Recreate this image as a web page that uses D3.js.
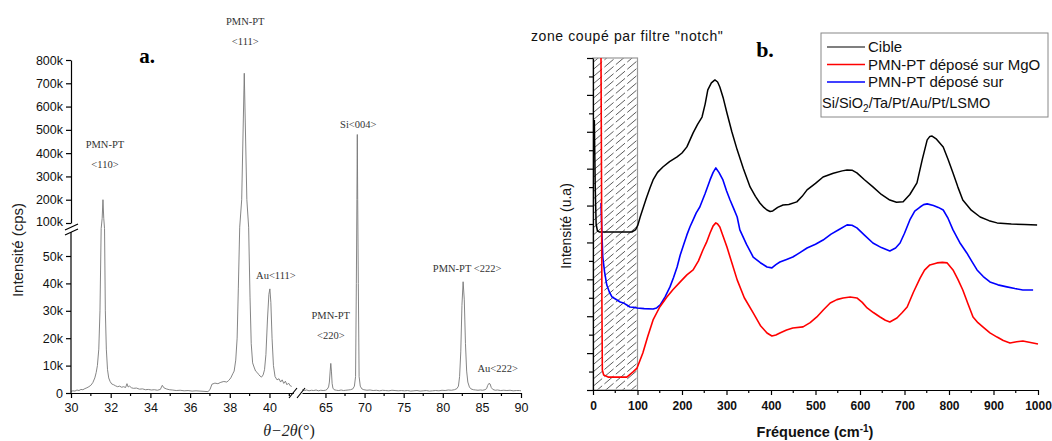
<!DOCTYPE html>
<html><head><meta charset="utf-8">
<script src="https://cdn.jsdelivr.net/npm/d3@7"></script>
<style>body{margin:0;background:#fff}svg{display:block}</style>
</head><body><svg id="c" width="1052" height="441"></svg>
<script>
// ---------- Panel a : XRD (angle in degrees, intensity in cps) ----------
const xrdLow = [[30.0,600],[30.1,800],[30.2,700],[30.3,1100],[30.4,900],[30.5,1300],[30.6,1200],[30.7,1600],[30.8,1900],[30.9,2300],[31.0,2800],[31.1,3800],[31.2,5500],[31.27,7500],[31.33,10000],[31.4,16000],[31.46,30000],[31.52,60000],[31.57,120000],[31.61,200000],[31.65,120000],[31.69,60000],[31.73,30000],[31.78,16000],[31.84,8500],[31.9,5500],[31.97,4200],[32.05,3300],[32.15,3000],[32.25,2600],[32.35,2300],[32.45,2500],[32.55,2100],[32.65,2300],[32.75,2000],[32.82,3400],[32.88,2200],[32.95,2500],[33.05,1900],[33.15,1700],[33.3,1800],[33.45,1400],[33.6,1500],[33.75,1200],[33.9,1300],[34.05,1100],[34.2,1200],[34.35,1000],[34.5,1300],[34.6,2800],[34.68,1900],[34.8,1500],[34.95,1200],[35.1,1100],[35.3,900],[35.5,1000],[35.7,800],[35.9,900],[36.1,700],[36.3,800],[36.5,700],[36.7,600],[36.9,500],[37.0,1200],[37.1,3200],[37.25,3600],[37.4,3400],[37.55,3900],[37.7,4200],[37.85,4000],[37.95,4600],[38.05,5500],[38.15,7000],[38.22,8000],[38.3,12000],[38.37,20000],[38.43,38000],[38.5,70000],[38.6,200000],[38.73,743000],[38.86,200000],[38.95,70000],[39.02,35000],[39.08,18000],[39.15,11000],[39.22,9500],[39.3,8000],[39.38,7500],[39.45,6800],[39.52,6200],[39.6,5800],[39.68,6600],[39.75,8500],[39.82,14000],[39.9,27000],[39.97,36000],[40.02,38000],[40.07,33000],[40.13,20000],[40.2,10000],[40.28,6000],[40.38,4800],[40.48,5200],[40.56,4000],[40.64,4800],[40.72,3500],[40.8,4300],[40.88,3000],[40.96,3600],[41.05,2600],[41.12,2400]];
const xrdHigh = [[62.0,1200],[62.3,900],[62.6,1100],[62.9,800],[63.2,1000],[63.5,900],[63.8,1100],[64.1,800],[64.4,1000],[64.7,900],[65.0,1000],[65.2,1300],[65.4,2200],[65.5,4000],[65.6,8000],[65.68,10800],[65.76,8000],[65.85,3500],[65.95,1800],[66.1,1200],[66.4,1000],[66.7,900],[67.0,1100],[67.3,900],[67.6,1000],[67.9,1100],[68.2,1200],[68.5,1500],[68.7,2500],[68.85,6000],[68.95,40000],[69.02,200000],[69.07,480000],[69.12,200000],[69.2,40000],[69.3,6000],[69.45,2500],[69.65,1500],[69.9,1200],[70.3,1000],[70.7,1100],[71.1,900],[71.5,1000],[71.9,800],[72.3,1000],[72.7,900],[73.1,800],[73.5,1000],[73.9,900],[74.3,800],[74.7,900],[75.1,800],[75.5,900],[75.9,700],[76.3,800],[76.7,900],[77.1,700],[77.5,800],[77.9,900],[78.3,700],[78.7,800],[79.1,900],[79.5,800],[79.9,1000],[80.3,900],[80.7,1100],[81.1,1000],[81.5,1200],[81.8,1600],[82.0,2500],[82.15,6000],[82.3,15000],[82.45,32000],[82.6,40600],[82.75,34000],[82.9,18000],[83.05,8000],[83.2,4000],[83.4,2200],[83.6,1500],[83.9,1200],[84.2,1100],[84.5,1000],[84.8,1100],[85.1,1000],[85.4,1200],[85.6,1600],[85.75,2800],[85.9,3500],[86.05,3300],[86.2,2000],[86.4,1300],[86.7,1000],[87.0,1100],[87.4,900],[87.8,1000],[88.2,900],[88.6,1000],[89.0,800],[89.4,900],[89.8,900],[90.0,800]];
const xLowTicks = [30,32,34,36,38,40];
const xLowMinor = [31,33,35,37,39,41];
const xHighTicks = [65,70,75,80,85,90];
const xHighMinor = [67.5,72.5,77.5,82.5,87.5];
const yLowTicks = [0,10000,20000,30000,40000,50000];
const yHighTicks = [100000,200000,300000,400000,500000,600000,700000,800000];
// peak annotations: lines of text, peak angle, peak intensity
const xrdPeakLabels = [
  {lines:["PMN-PT","<110>"], angle:31.61, cps:200000},
  {lines:["PMN-PT","<111>"], angle:38.73, cps:743000},
  {lines:["Au<111>"], angle:40.02, cps:38000},
  {lines:["PMN-PT","<220>"], angle:65.68, cps:10800},
  {lines:["Si<004>"], angle:69.07, cps:480000},
  {lines:["PMN-PT <222>"], angle:82.6, cps:40600},
  {lines:["Au<222>"], angle:86.0, cps:3500}
];

// ---------- Panel b : Raman (frequency cm-1, intensity a.u.) ----------
const cible = [[3,1464],[5,1100],[7,900],[10,862],[14,857],[50,857],[88,857],[96,870],[101,895],[106,938],[113,990],[120,1041],[128,1095],[135,1139],[145,1180],[157,1209],[172,1238],[189,1264],[200,1285],[211,1318],[225,1394],[235,1440],[245,1480],[252,1550],[258,1627],[266,1665],[274,1681],[280,1670],[285,1643],[293,1580],[301,1502],[312,1400],[324,1302],[338,1200],[353,1101],[365,1050],[375,1014],[384,990],[391,976],[398,968],[404,971],[415,990],[427,1003],[440,1006],[458,1020],[470,1050],[481,1085],[500,1120],[517,1155],[540,1175],[560,1188],[571,1193],[582,1192],[593,1177],[610,1140],[629,1101],[648,1060],[667,1030],[682,1018],[697,1020],[712,1060],[728,1123],[740,1250],[751,1356],[757,1375],[762,1377],[772,1360],[787,1318],[798,1250],[809,1177],[820,1100],[831,1030],[850,975],[870,938],[890,918],[908,906],[940,900],[970,897],[998,895]];
const mgo = [[18,1800],[19,1200],[20,488],[21,108],[24,81],[34,70],[61,70],[76,70],[90,98],[99,119],[112,201],[123,290],[135,380],[150,450],[166,504],[180,545],[196,586],[211,624],[225,651],[237,700],[247,759],[255,800],[263,851],[270,890],[276,906],[280,900],[285,884],[293,830],[301,775],[312,690],[324,597],[340,500],[360,418],[376,350],[391,309],[402,293],[411,298],[420,309],[435,325],[449,336],[472,342],[488,365],[503,396],[518,435],[533,472],[548,490],[562,499],[578,504],[593,499],[605,475],[616,445],[630,420],[645,396],[657,378],[667,369],[683,390],[695,420],[706,450],[720,530],[735,607],[745,650],[757,678],[773,689],[785,692],[796,689],[809,651],[820,600],[831,542],[843,465],[854,396],[865,365],[876,342],[892,310],[908,287],[922,268],[937,255],[952,262],[966,266],[983,258],[1000,249]];
const lsmo = [[18,1014],[20,851],[22,721],[26,640],[31,569],[37,530],[43,504],[54,488],[61,477],[70,470],[76,461],[83,450],[92,448],[99,445],[115,441],[135,439],[143,445],[151,461],[162,505],[173,559],[181,610],[189,667],[196,732],[204,790],[211,841],[218,885],[225,922],[232,960],[240,992],[252,1065],[263,1139],[270,1180],[276,1204],[283,1180],[292,1139],[300,1080],[308,1030],[316,985],[324,938],[330,868],[345,790],[360,721],[376,690],[391,667],[402,662],[411,680],[420,694],[435,708],[449,721],[465,745],[481,770],[500,790],[517,813],[535,845],[553,870],[571,895],[582,893],[593,879],[610,840],[629,797],[648,772],[667,754],[680,770],[690,797],[700,850],[712,922],[723,970],[735,992],[743,1005],[751,1009],[765,1000],[776,990],[787,976],[798,930],[809,868],[824,800],[840,743],[852,695],[863,651],[877,615],[892,586],[910,570],[930,559],[948,550],[966,542],[989,542]];
const ramanXTicks = [0,100,200,300,400,500,600,700,800,900,1000];
const ramanXMinor = [50,150,250,350,450,550,650,750,850,950];
const ramanYTicks = d3.range(0, 1801, 100);
const notchRange = [0, 100];
const legendItems = [
  {name:"Cible", color:"#000000", w:1.2},
  {name:"PMN-PT déposé sur MgO", color:"#ff0000", w:1.6},
  {name:"PMN-PT déposé sur", color:"#0000ff", w:1.6}
];

const svg = d3.select("#c");
const SANS = "'Liberation Sans', Arial, sans-serif";
const SERIF = "'Liberation Serif', 'Times New Roman', serif";

// ================= Panel a =================
const xLo = d3.scaleLinear().domain([30, 41.2]).range([71, 293.3]);
const xHi = d3.scaleLinear().domain([62, 90]).range([302, 521]);
const yLo = d3.scaleLinear().domain([0, 60000]).range([393, 228.6]);
const yHi = d3.scaleLinear().domain([100000, 800000]).range([223, 60]);
const yPoly = d3.scaleLinear().domain([0, 60000, 100000, 800000]).range([393, 228.6, 223, 60]);

const ga = svg.append("g");
const lineLo = d3.line().x(d => xLo(d[0])).y(d => yPoly(d[1]));
const lineHi = d3.line().x(d => xHi(d[0])).y(d => yPoly(d[1]));
ga.append("path").attr("d", lineLo(xrdLow)).attr("fill","none").attr("stroke","#777").attr("stroke-width",0.9);
ga.append("path").attr("d", lineHi(xrdHigh)).attr("fill","none").attr("stroke","#777").attr("stroke-width",0.9);

function styleAxis(g, fs, weight){
  g.selectAll("path.domain").attr("stroke","#000").attr("stroke-width",1.2);
  g.selectAll(".tick line").attr("stroke","#000").attr("stroke-width",1.2);
  g.selectAll("text").attr("font-family",SANS).attr("font-size",fs).attr("fill","#111").attr("font-weight",weight||"normal");
}
const kfmt = v => v === 0 ? "0" : (v/1000) + "k";
// y axes
const gyl = ga.append("g").attr("transform","translate(71,0)")
  .call(d3.axisLeft(yLo).tickValues(yLowTicks).tickFormat(kfmt).tickSize(5).tickPadding(3).tickSizeOuter(0));
gyl.select("path.domain").attr("d","M0,393V232");
styleAxis(gyl, 12.5);
const gyh = ga.append("g").attr("transform","translate(71,0)")
  .call(d3.axisLeft(yHi).tickValues(yHighTicks).tickFormat(kfmt).tickSize(5).tickPadding(3).tickSizeOuter(0));
styleAxis(gyh, 12.5);
gyh.select(".tick text").attr("dy","0.2em");
// y break marks
[0,5].forEach(o => ga.append("line").attr("x1",65).attr("y1",230+o).attr("x2",78).attr("y2",224+o)
  .attr("stroke","#000").attr("stroke-width",1.2));
// x axes
const gxl = ga.append("g").attr("transform","translate(0,393)")
  .call(d3.axisBottom(xLo).tickValues(xLowTicks).tickSize(5).tickPadding(5).tickSizeOuter(0));
styleAxis(gxl, 12.5);
gxl.selectAll(".minor").data(xLowMinor).enter().append("line").attr("class","minor")
  .attr("x1",d=>xLo(d)).attr("x2",d=>xLo(d)).attr("y1",0).attr("y2",3).attr("stroke","#000").attr("stroke-width",1.2);
const gxh = ga.append("g").attr("transform","translate(0,393)")
  .call(d3.axisBottom(xHi).tickValues(xHighTicks).tickSize(5).tickPadding(5).tickSizeOuter(0));
styleAxis(gxh, 12.5);
gxh.selectAll(".minor").data(xHighMinor).enter().append("line").attr("class","minor")
  .attr("x1",d=>xHi(d)).attr("x2",d=>xHi(d)).attr("y1",0).attr("y2",3).attr("stroke","#000").attr("stroke-width",1.2);
// x break marks
[293, 301].forEach(x => ga.append("line").attr("x1",x-4).attr("y1",398).attr("x2",x+4).attr("y2",388)
  .attr("stroke","#000").attr("stroke-width",1.2));

// peak annotations
const labelPos = [
  {dx:2, dy:-32}, {dx:1, dy:-28}, {dx:6, dy:-10}, {dx:0, dy:-24}, {dx:1, dy:-7}, {dx:4, dy:-10}, {dx:8, dy:-11}
];
xrdPeakLabels.forEach((p, i) => {
  const sx = (p.angle < 50 ? xLo : xHi)(p.angle);
  const sy = yPoly(p.cps);
  const n = p.lines.length;
  p.lines.forEach((t, j) => {
    ga.append("text").attr("x", sx + labelPos[i].dx).attr("y", sy + labelPos[i].dy - (n-1-j)*20)
      .attr("text-anchor","middle").attr("font-family",SERIF).attr("font-size",10.5).attr("fill","#333").text(t);
  });
});
ga.append("text").attr("x",147).attr("y",63).attr("text-anchor","middle").attr("font-family",SERIF)
  .attr("font-weight","bold").attr("font-size",21).text("a.");
ga.append("text").attr("transform","translate(23,250) rotate(-90)").attr("text-anchor","middle")
  .attr("font-family",SANS).attr("font-size",15).attr("fill","#222").text("Intensité (cps)");
const xt = ga.append("text").attr("x",289).attr("y",436).attr("text-anchor","middle")
  .attr("font-family",SERIF).attr("font-size",16).attr("fill","#222");
xt.append("tspan").attr("font-style","italic").text("θ−2θ");
xt.append("tspan").text("(°)");

// ================= Panel b =================
const xR = d3.scaleLinear().domain([0, 1000]).range([593, 1038]);
const yR = d3.scaleLinear().domain([0, 1800]).range([390, 58]);
const gb = svg.append("g");

// notch zone hatch
const defs = svg.append("defs");
defs.append("clipPath").attr("id","notchClip").append("rect")
  .attr("x",xR(notchRange[0])).attr("y",yR(1800)).attr("width",xR(notchRange[1])-xR(notchRange[0])).attr("height",yR(0)-yR(1800));
const hatch = gb.append("g").attr("clip-path","url(#notchClip)");
const hx0 = xR(notchRange[0]), hx1 = xR(notchRange[1]);
for (let y0 = yR(1800) - 10; y0 < yR(0) + 60; y0 += 7.2) {
  hatch.append("line").attr("x1",hx0).attr("y1",y0).attr("x2",hx1).attr("y2",y0 - (hx1-hx0)*0.85)
    .attr("stroke","#333").attr("stroke-width",0.8).attr("stroke-dasharray","12 3");
}
gb.append("rect").attr("x",hx0).attr("y",yR(1800)).attr("width",hx1-hx0).attr("height",yR(0)-yR(1800))
  .attr("fill","none").attr("stroke","#999").attr("stroke-width",1.2);

const rline = d3.line().x(d => xR(d[0])).y(d => yR(d[1]));
gb.append("path").attr("d", rline(cible)).attr("fill","none").attr("stroke","#000").attr("stroke-width",1.5).attr("stroke-linejoin","round");
gb.append("path").attr("d", rline(lsmo)).attr("fill","none").attr("stroke","#0000ff").attr("stroke-width",1.6).attr("stroke-linejoin","round");
gb.append("path").attr("d", rline(mgo)).attr("fill","none").attr("stroke","#ff0000").attr("stroke-width",1.6).attr("stroke-linejoin","round");

// axes
const gbx = gb.append("g").attr("transform","translate(0,390)")
  .call(d3.axisBottom(xR).tickValues(ramanXTicks).tickFormat(d3.format("d")).tickSize(5).tickPadding(6).tickSizeOuter(0));
styleAxis(gbx, 12, "bold");
gbx.selectAll(".minor").data(ramanXMinor).enter().append("line").attr("class","minor")
  .attr("x1",d=>xR(d)).attr("x2",d=>xR(d)).attr("y1",0).attr("y2",3).attr("stroke","#000").attr("stroke-width",1.2);
const gby = gb.append("g").attr("transform","translate(593,0)")
  .call(d3.axisLeft(yR).tickValues(ramanYTicks).tickFormat("").tickSize(6).tickSizeOuter(0));
styleAxis(gby, 12);
gby.selectAll(".tick line").attr("x2", d => (d/100) % 2 === 0 ? -6 : -4);

gb.append("text").attr("transform","translate(571,226) rotate(-90)").attr("text-anchor","middle")
  .attr("font-family",SANS).attr("font-size",14).attr("fill","#111").text("Intensité (u.a)");
const bxt = gb.append("text").attr("x",815).attr("y",437).attr("text-anchor","middle")
  .attr("font-family",SANS).attr("font-size",14.5).attr("font-weight","bold").attr("fill","#111");
bxt.append("tspan").text("Fréquence (cm");
bxt.append("tspan").attr("font-size",10).attr("baseline-shift","super").text("-1");
bxt.append("tspan").text(")");
gb.append("text").attr("x",531).attr("y",41).attr("font-family",SANS).attr("font-size",14).attr("letter-spacing",0.6).attr("fill","#111")
  .text("zone coupé par filtre \"notch\"");
gb.append("text").attr("x",765).attr("y",57).attr("text-anchor","middle").attr("font-family",SERIF)
  .attr("font-weight","bold").attr("font-size",22).text("b.");

// legend
const lg = gb.append("g");
lg.append("rect").attr("x",821).attr("y",33).attr("width",227).attr("height",84)
  .attr("fill","#fff").attr("stroke","#888").attr("stroke-width",1);
legendItems.forEach((it, i) => {
  const y = 47 + i*17.5;
  lg.append("line").attr("x1",827).attr("x2",865).attr("y1",y).attr("y2",y).attr("stroke",it.color).attr("stroke-width",it.w);
  lg.append("text").attr("x",868).attr("y",y+5).attr("font-family",SANS).attr("font-size",15).attr("fill","#111").text(it.name);
});
const lt = lg.append("text").attr("x",822).attr("y",108).attr("font-family",SANS).attr("font-size",14.5).attr("fill","#111");
lt.append("tspan").text("Si/SiO");
lt.append("tspan").attr("font-size",10).attr("dy",4).text("2");
lt.append("tspan").attr("dy",-4).text("/Ta/Pt/Au/Pt/LSMO");
</script></body></html>
